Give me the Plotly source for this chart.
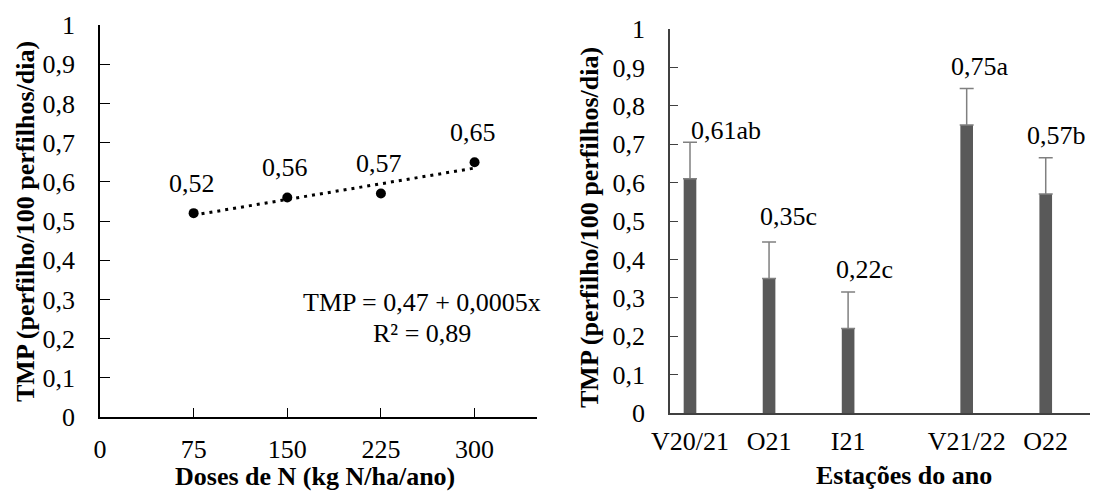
import numpy as np
import plotly.graph_objects as go

# ---------------- data ----------------
doses = [75, 150, 225, 300]
tmp_doses = [0.52, 0.56, 0.57, 0.65]

seasons = ["V20/21", "O21", "I21", "V21/22", "O22"]
season_pos = [0, 1, 2, 3.5, 4.5]
tmp_seasons = [0.61, 0.35, 0.22, 0.75, 0.57]
tmp_sd = [0.095, 0.095, 0.095, 0.095, 0.095]
letters = ["ab", "c", "c", "a", "b"]

y_ticks = [0, 0.1, 0.2, 0.3, 0.4, 0.5, 0.6, 0.7, 0.8, 0.9, 1]
y_ticklabels = ["0", "0,1", "0,2", "0,3", "0,4", "0,5", "0,6", "0,7", "0,8", "0,9", "1"]
dose_ticks = [0, 75, 150, 225, 300]
dose_ticklabels = ["0", "75", "150", "225", "300"]

eq_line1 = "TMP = 0,47 + 0,0005x"
eq_line2 = "R² = 0,89"
y_title = "TMP (perfilho/100 perfilhos/dia)"
x_title_left = "Doses de N (kg N/ha/ano)"
x_title_right = "Estações do ano"

# ---------------- helpers ----------------
W, H = 1094, 492
FONT = "Liberation Serif"


def fmt(v):
    return f"{v:.2f}".replace(".", ",")


def px(p):
    return p / W


def py(p):
    return 1 - p / H


fig = go.Figure()

# trend line (fit from data)
slope, intercept = np.polyfit(doses, tmp_doses, 1)
trend_x = [doses[0], doses[-1]]
trend_y = [intercept + slope * x for x in trend_x]
fig.add_trace(go.Scatter(
    x=trend_x, y=trend_y, mode="lines",
    line=dict(color="black", width=3, dash="3px,5px"),
    xaxis="x", yaxis="y", showlegend=False, hoverinfo="skip"))

fig.add_trace(go.Scatter(
    x=doses, y=tmp_doses, mode="markers",
    marker=dict(color="black", size=10),
    xaxis="x", yaxis="y", showlegend=False))

fig.add_trace(go.Bar(
    x=season_pos, y=tmp_seasons, width=0.16,
    marker=dict(color="#595959", line=dict(width=0)),
    error_y=dict(type="data", symmetric=False, array=tmp_sd,
                 arrayminus=[0] * len(tmp_sd),
                 color="#808080", thickness=1.5, width=7),
    xaxis="x2", yaxis="y2", showlegend=False))

tick_font = dict(family=FONT, size=26, color="black")

annotations = []
for d, v in zip(doses, tmp_doses):
    annotations.append(dict(x=d, y=v, xref="x", yref="y", text=fmt(v),
                            showarrow=False, yshift=30, xshift=-2,
                            xanchor="center", yanchor="middle",
                            font=tick_font))

bar_xshift = [36, 19, 16, 13, 11]
bar_yshift = [12, 26, 23, 22, 22]
for p, v, s, l, xs, ys in zip(season_pos, tmp_seasons, tmp_sd, letters,
                              bar_xshift, bar_yshift):
    annotations.append(dict(x=p, y=v + s, xref="x2", yref="y2",
                            text=fmt(v) + l, showarrow=False,
                            xanchor="center", yanchor="middle",
                            xshift=xs, yshift=ys, font=tick_font))

annotations.append(dict(x=258, y=0.291, xref="x", yref="y", text=eq_line1,
                        xanchor="center", yanchor="middle",
                        showarrow=False, font=tick_font))
annotations.append(dict(x=258, y=0.214, xref="x", yref="y", text=eq_line2,
                        xanchor="center", yanchor="middle",
                        showarrow=False, font=tick_font))

title_font = dict(family=FONT, size=26, color="black")
annotations.append(dict(x=px(26), y=py(222), xref="paper", yref="paper",
                        text="<b>" + y_title + "</b>", textangle=-90,
                        xanchor="center", yanchor="middle",
                        showarrow=False, font=title_font))
annotations.append(dict(x=px(590), y=py(228), xref="paper", yref="paper",
                        text="<b>" + y_title + "</b>", textangle=-90,
                        xanchor="center", yanchor="middle",
                        showarrow=False, font=title_font))
annotations.append(dict(x=px(315), y=py(476), xref="paper", yref="paper",
                        text="<b>" + x_title_left + "</b>",
                        xanchor="center", yanchor="middle",
                        showarrow=False, font=title_font))
annotations.append(dict(x=px(904), y=py(475), xref="paper", yref="paper",
                        text="<b>" + x_title_right + "</b>",
                        xanchor="center", yanchor="middle",
                        showarrow=False, font=title_font))

common = dict(showgrid=False, zeroline=False, tickfont=tick_font,
              automargin=False, showline=True, linewidth=1.5)

fig.update_layout(
    width=W, height=H,
    autosize=False,
    margin=dict(l=0, r=0, t=0, b=0, pad=0, autoexpand=False),
    paper_bgcolor="white", plot_bgcolor="white",
    font=dict(family=FONT, size=26, color="black"),
    showlegend=False,
    xaxis=dict(domain=[px(100), px(537)], range=[0, 350],
               tickvals=dose_ticks, ticktext=dose_ticklabels,
               ticks="inside", ticklen=9, tickwidth=1.3, tickcolor="black",
               linecolor="black", ticklabelstandoff=8, anchor="y", **common),
    yaxis=dict(domain=[py(417), py(25)], range=[0, 1],
               tickvals=y_ticks, ticktext=y_ticklabels,
               ticks="inside", ticklen=10, tickwidth=1.3, tickcolor="black",
               linecolor="black", ticklabelstandoff=18, anchor="x", **common),
    xaxis2=dict(domain=[px(670), px(1090)], range=[-0.253, 5.06],
                tickvals=season_pos, ticktext=seasons,
                ticks="", linecolor="#404040",
                ticklabelstandoff=4, anchor="y2", **common),
    yaxis2=dict(domain=[py(413), py(29)], range=[0, 1],
                tickvals=y_ticks, ticktext=y_ticklabels,
                ticks="inside", ticklen=8, tickwidth=1.3, tickcolor="#404040",
                linecolor="#404040", ticklabelstandoff=18, anchor="x2",
                **common),
    annotations=annotations,
)

fig.write_html("out.html")
